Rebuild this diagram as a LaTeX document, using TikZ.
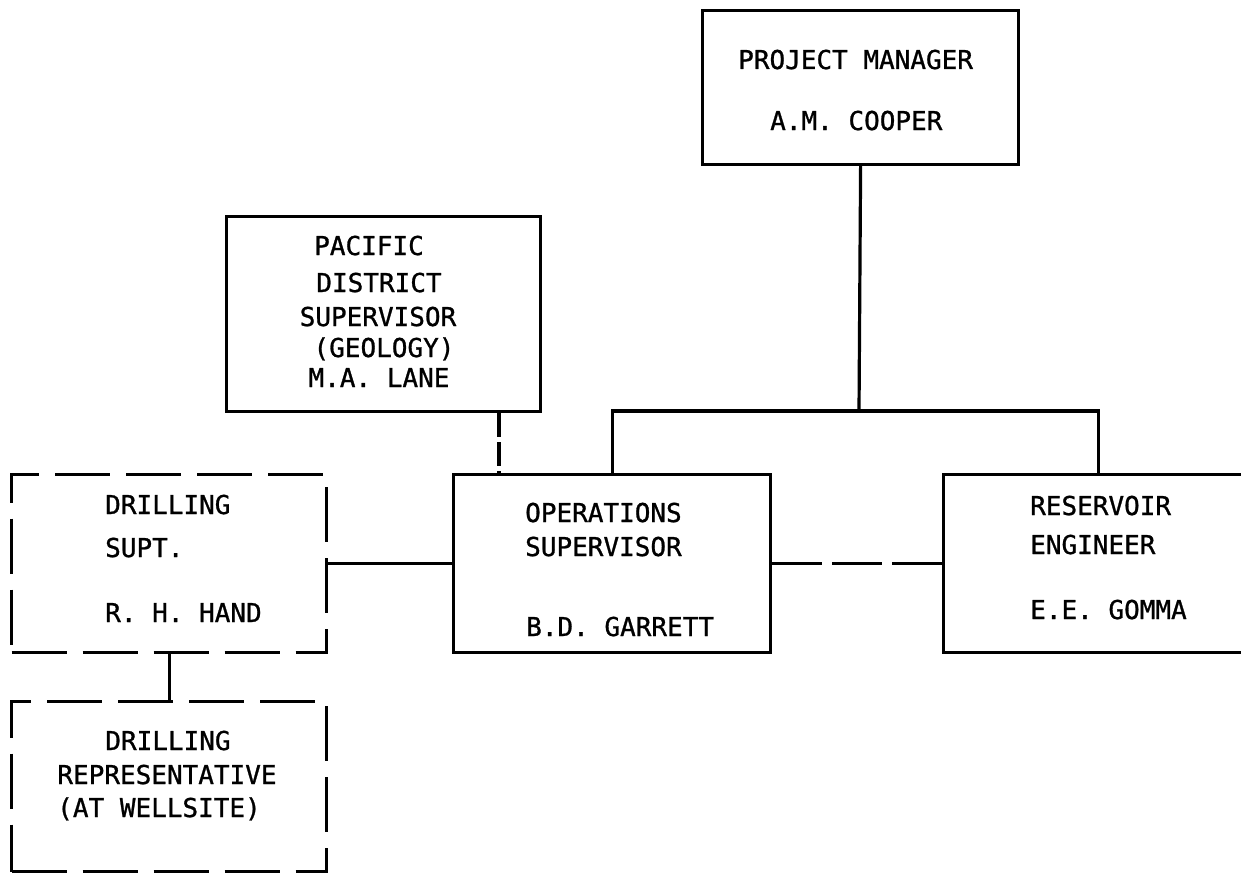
\documentclass[tikz,border=0pt]{standalone}
\usepackage{fontspec}
\newfontfamily\chartfont[FakeBold=1]{DejaVu Sans Mono}
\begin{document}
\begin{tikzpicture}[x=1pt,y=-1pt,
  box/.style={draw, line width=3.2pt, inner sep=0pt, anchor=north west},
  dbox/.style={box, dash pattern=on 55pt off 16pt},
  txt/.style={font=\chartfont\fontsize{26}{33}\selectfont, inner sep=0pt},
  link/.style={line width=3.2pt},
  dlink/.style={link, dash pattern=on 50pt off 10pt},
  slink/.style={link, dash pattern=on 24pt off 5pt},
]
\fill[white] (0,0) rectangle (1241,875);
\useasboundingbox (0,0) rectangle (1241,875);

% boxes
\node[box, minimum width=316pt, minimum height=154pt] (pm) at (701,9) {};
\node[box, minimum width=314pt, minimum height=195pt] (pac) at (225,215) {};
\node[dbox, minimum width=315pt, minimum height=178pt] (ds) at (10,473) {};
\node[box, minimum width=317pt, minimum height=178pt] (ops) at (452,473) {};
\node[box, minimum width=310pt, minimum height=178pt] (res) at (942,473) {};
\node[dbox, minimum width=315pt, minimum height=170pt] (dr) at (10,700) {};

% texts
\node[txt, anchor=base west] (pmA) at (738,69) {PROJECT MANAGER};
\node[txt, anchor=base west] (pmB) at (770,130) {A.M. COOPER};

\node[txt, anchor=base] (pacA) at (369,255) {PACIFIC};
\node[txt, anchor=base] (pacB) at (379,292) {DISTRICT};
\node[txt, anchor=base] (pacC) at (378,326) {SUPERVISOR};
\node[txt, anchor=base] (pacD) at (384,357) {(GEOLOGY)};
\node[txt, anchor=base] (pacE) at (379,387) {M.A. LANE};

\node[txt, anchor=base west] (dsA) at (105,514) {DRILLING};
\node[txt, anchor=base west] (dsB) at (105,557) {SUPT.};
\node[txt, anchor=base west] (dsC) at (105,622) {R. H. HAND};

\node[txt, anchor=base west] (opsA) at (525,522) {OPERATIONS};
\node[txt, anchor=base west] (opsB) at (525,556) {SUPERVISOR};
\node[txt, anchor=base west] (opsC) at (526,636) {B.D. GARRETT};

\node[txt, anchor=base west] (resA) at (1030,515) {RESERVOIR};
\node[txt, anchor=base west] (resB) at (1030,554) {ENGINEER};
\node[txt, anchor=base west] (resC) at (1030,619) {E.E. GOMMA};

\node[txt, anchor=base] (drA) at (168,750) {DRILLING};
\node[txt, anchor=base] (drB) at (167,784) {REPRESENTATIVE};
\node[txt, anchor=base] (drC) at (159,817) {(AT WELLSITE)};

% connectors
\coordinate (bus) at (859,411);
\coordinate (pd) at (499,0);
\draw[link] (pm.south) -- (bus);
\draw[link] (ops.north) |- (bus) -| (res.north);
\draw[slink] (pd |- pac.south) -- (pd |- ops.north);
\draw[link] (ds.east) -- (ops.west);
\draw[dlink] (ops.east) -- (res.west);
\draw[link] (ds.south) -- (dr.north);
\end{tikzpicture}
\end{document}
